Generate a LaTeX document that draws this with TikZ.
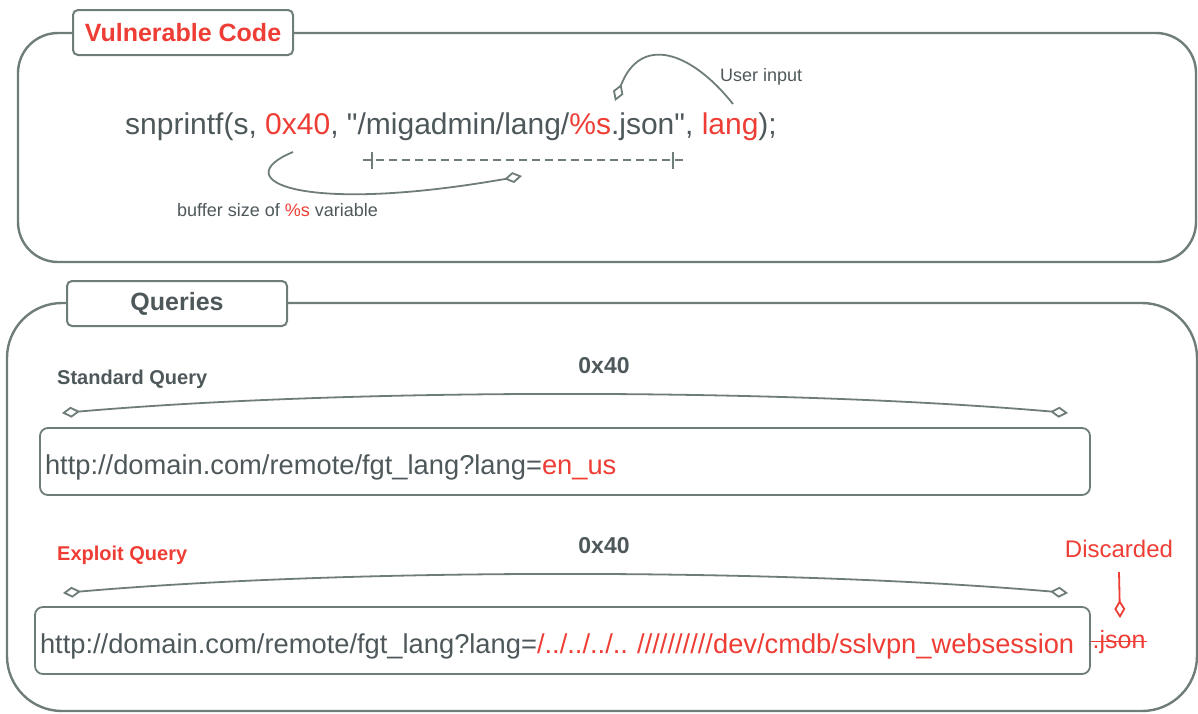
\documentclass[tikz,border=0pt]{standalone}
\usepackage{fontspec}
\setmainfont{Liberation Sans}[Ligatures=TeXOff]
\usepackage{xcolor}
\usetikzlibrary{arrows.meta,positioning}
\definecolor{ink}{HTML}{4E585B}
\definecolor{edge}{HTML}{6F7D7A}
\definecolor{alert}{HTML}{EE3D35}
\frenchspacing

\begin{document}
\begin{tikzpicture}[x=1pt, y=-1pt,
  frame/.style={draw=edge, line width=2.4pt},
  tag/.style={draw=edge, line width=2pt, fill=white, rounded corners=5pt, minimum width=220pt, minimum height=45pt, font=\fontsize{25}{30}\selectfont\bfseries},
  urlbox/.style={draw=edge, line width=1.8pt, rounded corners=8pt, inner xsep=5pt, align=left, text height=27pt, text depth=2pt, font=\fontsize{27.3}{33}\selectfont, text=ink},
  code/.style={font=\fontsize{30}{36}\selectfont, text=ink, inner sep=0pt},
  note/.style={font=\fontsize{18}{22}\selectfont, text=ink, inner sep=0pt},
  head/.style={font=\fontsize{20}{24}\selectfont\bfseries, inner sep=0pt},
  size/.style={font=\fontsize{23}{28}\selectfont\bfseries, text=ink, inner sep=0pt},
  bracket/.style={draw=edge, line width=1.8pt, {Diamond[open,length=18pt,width=11pt]}-{Diamond[open,length=18pt,width=11pt]}},
  pointer/.style={draw=edge, line width=1.8pt, -{Diamond[open,length=18pt,width=11pt]}},
]
\useasboundingbox (0,0) rectangle (1198,713);

% frames
\draw[frame, rounded corners=40pt] (18,33) rectangle (1196,262);
\draw[frame, rounded corners=55pt] (7,303) rectangle (1197,711);
\node[tag, text=alert] (vulntag) at (183,32.5) {Vulnerable Code};
\node[tag, text=ink] (querytag) at (177,303.5) {Queries};

% vulnerable call
\node[code, anchor=base west] (codeline) at (125,134) {snprintf(s, \textcolor{alert}{0x40}, "/migadmin/lang/\textcolor{alert}{\%s}.json", \textcolor{alert}{lang});};
\node[note, anchor=base west] (userlbl) at (720,81) {User input};
\node[note, anchor=base west] (buflbl) at (177,216) {buffer size of \textcolor{alert}{\%s} variable};

\coordinate (userfrom) at (733,104);
\coordinate (userto) at (615,101);
\draw[pointer] (userfrom) .. controls (690,50) and (640,35) .. (userto);

\coordinate (buffrom) at (293,152);
\coordinate (bufto) at (522,176);
\draw[pointer] (buffrom) .. controls (225,180) and (300,215) .. (bufto);

\coordinate (spanl) at (363,160);
\coordinate (spanr) at (684,160);
\draw[draw=edge, line width=1.5pt, dash pattern=on 8pt off 5pt] (spanl) -- (spanr);
\draw[draw=edge, line width=1.8pt] (372,152) -- (372,169) (673,152) -- (673,169);

% standard query
\node[head, text=ink, anchor=base west] (stdlbl) at (57,384) {Standard Query};
\node[size, anchor=base] (stdsize) at (604,373) {0x40};
\coordinate (stdl) at (62,413);
\coordinate (stdr) at (1068,413);
\draw[bracket] (stdl) .. controls (350,388) and (780,388) .. (stdr);
\node[urlbox, minimum height=67pt, text width=1040pt] (stdurl) at (565,461.5) {http://domain.com/remote/fgt\_lang?lang=\textcolor{alert}{en\_us}};

% exploit query
\node[head, text=alert, anchor=base west] (explbl) at (57,560) {Exploit Query};
\node[size, anchor=base] (expsize) at (604,553) {0x40};
\coordinate (expl) at (63,593);
\coordinate (expr) at (1068,593);
\draw[bracket] (expl) .. controls (350,568) and (780,568) .. (expr);
\node[urlbox, minimum height=67pt, text width=1045pt] (expurl) at (562.5,640.5) {http://domain.com/remote/fgt\_lang?lang=\textcolor{alert}{/../../../.. //////////dev/cmdb/sslvpn\_websession}};

\node[font=\fontsize{24}{29}\selectfont, text=alert, inner sep=0pt, anchor=base] (discard) at (1119,557) {Discarded};
\node[font=\fontsize{25}{30}\selectfont, text=alert, inner xsep=1.5pt, inner ysep=0pt, anchor=base west] (json) at (1091,648) {.json};
\draw[alert, line width=1.8pt] (json.west) -- (json.east);
\coordinate (dropto) at (1120,618);
\draw[pointer, draw=alert] (discard.south |- 0,572) -- (dropto);

\end{tikzpicture}
\end{document}
